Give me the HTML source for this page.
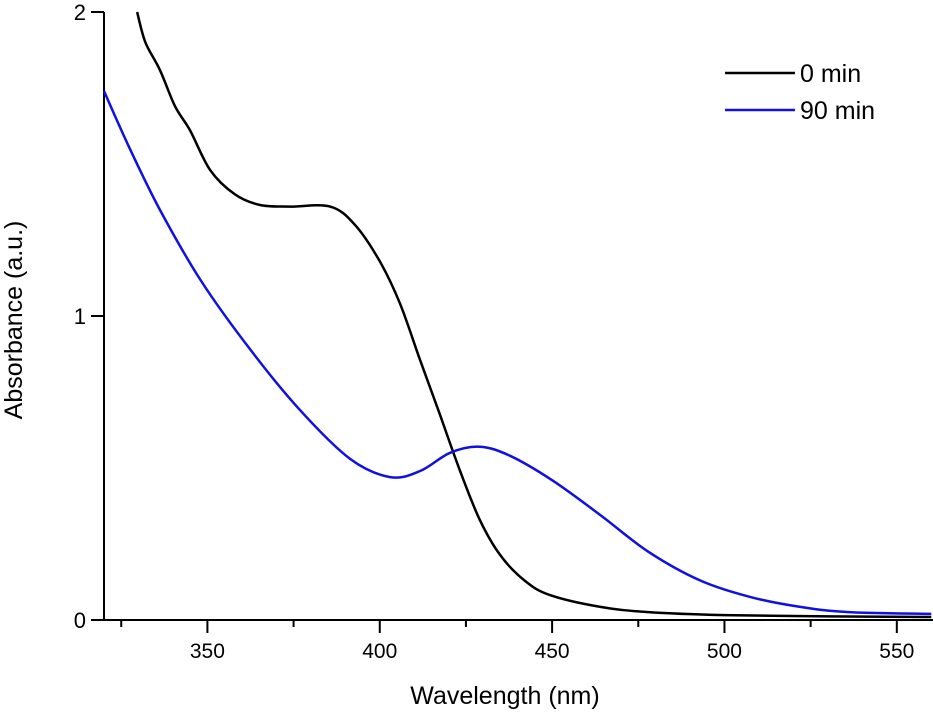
<!DOCTYPE html>
<html><head><meta charset="utf-8"><style>
body{margin:0;background:#fff;}
svg{display:block;font-family:"Liberation Sans",Arial,sans-serif;}
</style></head><body>
<svg id="chart" width="933" height="717" viewBox="0 0 933 717" xmlns="http://www.w3.org/2000/svg">
<g id="axes"></g>
<g id="series"></g>
<text x="505" y="704" font-size="25" text-anchor="middle">Wavelength (nm)</text>
<text transform="translate(22,320) rotate(-90)" font-size="25" text-anchor="middle">Absorbance (a.u.)</text>
<g>
<line x1="725" y1="73" x2="795" y2="73" stroke="#000" stroke-width="2.5"/>
<text x="800" y="82" font-size="25">0 min</text>
<line x1="725" y1="110" x2="795" y2="110" stroke="#1010e0" stroke-width="2.5"/>
<text x="800" y="119" font-size="25">90 min</text>
</g>
</svg>
<script>
const xTicks=[350,400,450,500,550];
const xMinor=[325,375,425,475,525];
const yTicks=[0,1,2];
const black_wl=[329.6,332,336.2,340.6,345,350.8,358,365.3,374,385.6,392.8,400,405.9,411.7,417.5,423.3,429,434.9,442,449.4,464,478,500,530,560];
const black_abs=[2.0,1.90,1.81,1.69,1.61,1.48,1.40,1.365,1.36,1.36,1.30,1.18,1.04,0.855,0.674,0.49,0.33,0.214,0.13,0.082,0.043,0.026,0.016,0.012,0.01];
const blue_wl=[320,327.5,336.2,347.9,362.4,376.9,391.4,403,411.7,420.4,429,437.8,450,464,478,493,507.4,522,536,560];
const blue_abs=[1.74,1.55,1.35,1.12,0.89,0.69,0.53,0.47,0.49,0.55,0.57,0.54,0.46,0.345,0.224,0.13,0.076,0.043,0.026,0.02];
const X0=104,Y0=620;
function sx(v){return X0+(v-320)*3.447;}
function sy(v){return Y0-v*304;}
const NS="http://www.w3.org/2000/svg";
const ax=document.getElementById('axes'),se=document.getElementById('series');
function mk(t,a,p){const e=document.createElementNS(NS,t);for(const k in a)e.setAttribute(k,a[k]);p.appendChild(e);return e;}
let l=mk('line',{x1:X0,y1:Y0,x2:933,y2:Y0,stroke:'#000','stroke-width':2},ax);


l=mk('line',{x1:X0,y1:12,x2:X0,y2:Y0+1,stroke:'#000','stroke-width':2},ax);


xTicks.forEach(v=>{
 const t=mk('line',{x1:sx(v),y1:Y0,x2:sx(v),y2:Y0+13,stroke:'#000','stroke-width':2},ax);
 
 
 const tx=mk('text',{x:sx(v),y:Y0+38,'font-size':21,'text-anchor':'middle'},ax);tx.textContent=v;
 
 
});
xMinor.forEach(v=>{
 const t=mk('line',{x1:sx(v),y1:Y0,x2:sx(v),y2:Y0+7,stroke:'#000','stroke-width':2},ax);
 
 
});
yTicks.forEach(v=>{
 const t=mk('line',{x1:X0-13,y1:sy(v),x2:X0,y2:sy(v),stroke:'#000','stroke-width':2},ax);
 
 
 const tx=mk('text',{x:X0-18,y:sy(v)+8,'font-size':22,'text-anchor':'end'},ax);tx.textContent=v;
 
 
});
function path(wl,ab){
 const P=wl.map((w,i)=>[sx(w),sy(ab[i])]);
 let d='M'+P[0][0].toFixed(1)+','+P[0][1].toFixed(1);
 for(let i=0;i<P.length-1;i++){
  const p0=P[Math.max(0,i-1)],p1=P[i],p2=P[i+1],p3=P[Math.min(P.length-1,i+2)];
  const c1=[p1[0]+(p2[0]-p0[0])/6,p1[1]+(p2[1]-p0[1])/6];
  const c2=[p2[0]-(p3[0]-p1[0])/6,p2[1]-(p3[1]-p1[1])/6];
  d+='C'+c1.map(n=>n.toFixed(1)).join(',')+' '+c2.map(n=>n.toFixed(1)).join(',')+' '+p2.map(n=>n.toFixed(1)).join(',');
 }
 return d;
}
let p=mk('path',{d:path(black_wl,black_abs),fill:'none',stroke:'#000','stroke-width':2.5,'stroke-linejoin':'round'},se);


p=mk('path',{d:path(blue_wl,blue_abs),fill:'none',stroke:'#1010e0','stroke-width':2.5,'stroke-linejoin':'round'},se);


</script>
</body></html>
